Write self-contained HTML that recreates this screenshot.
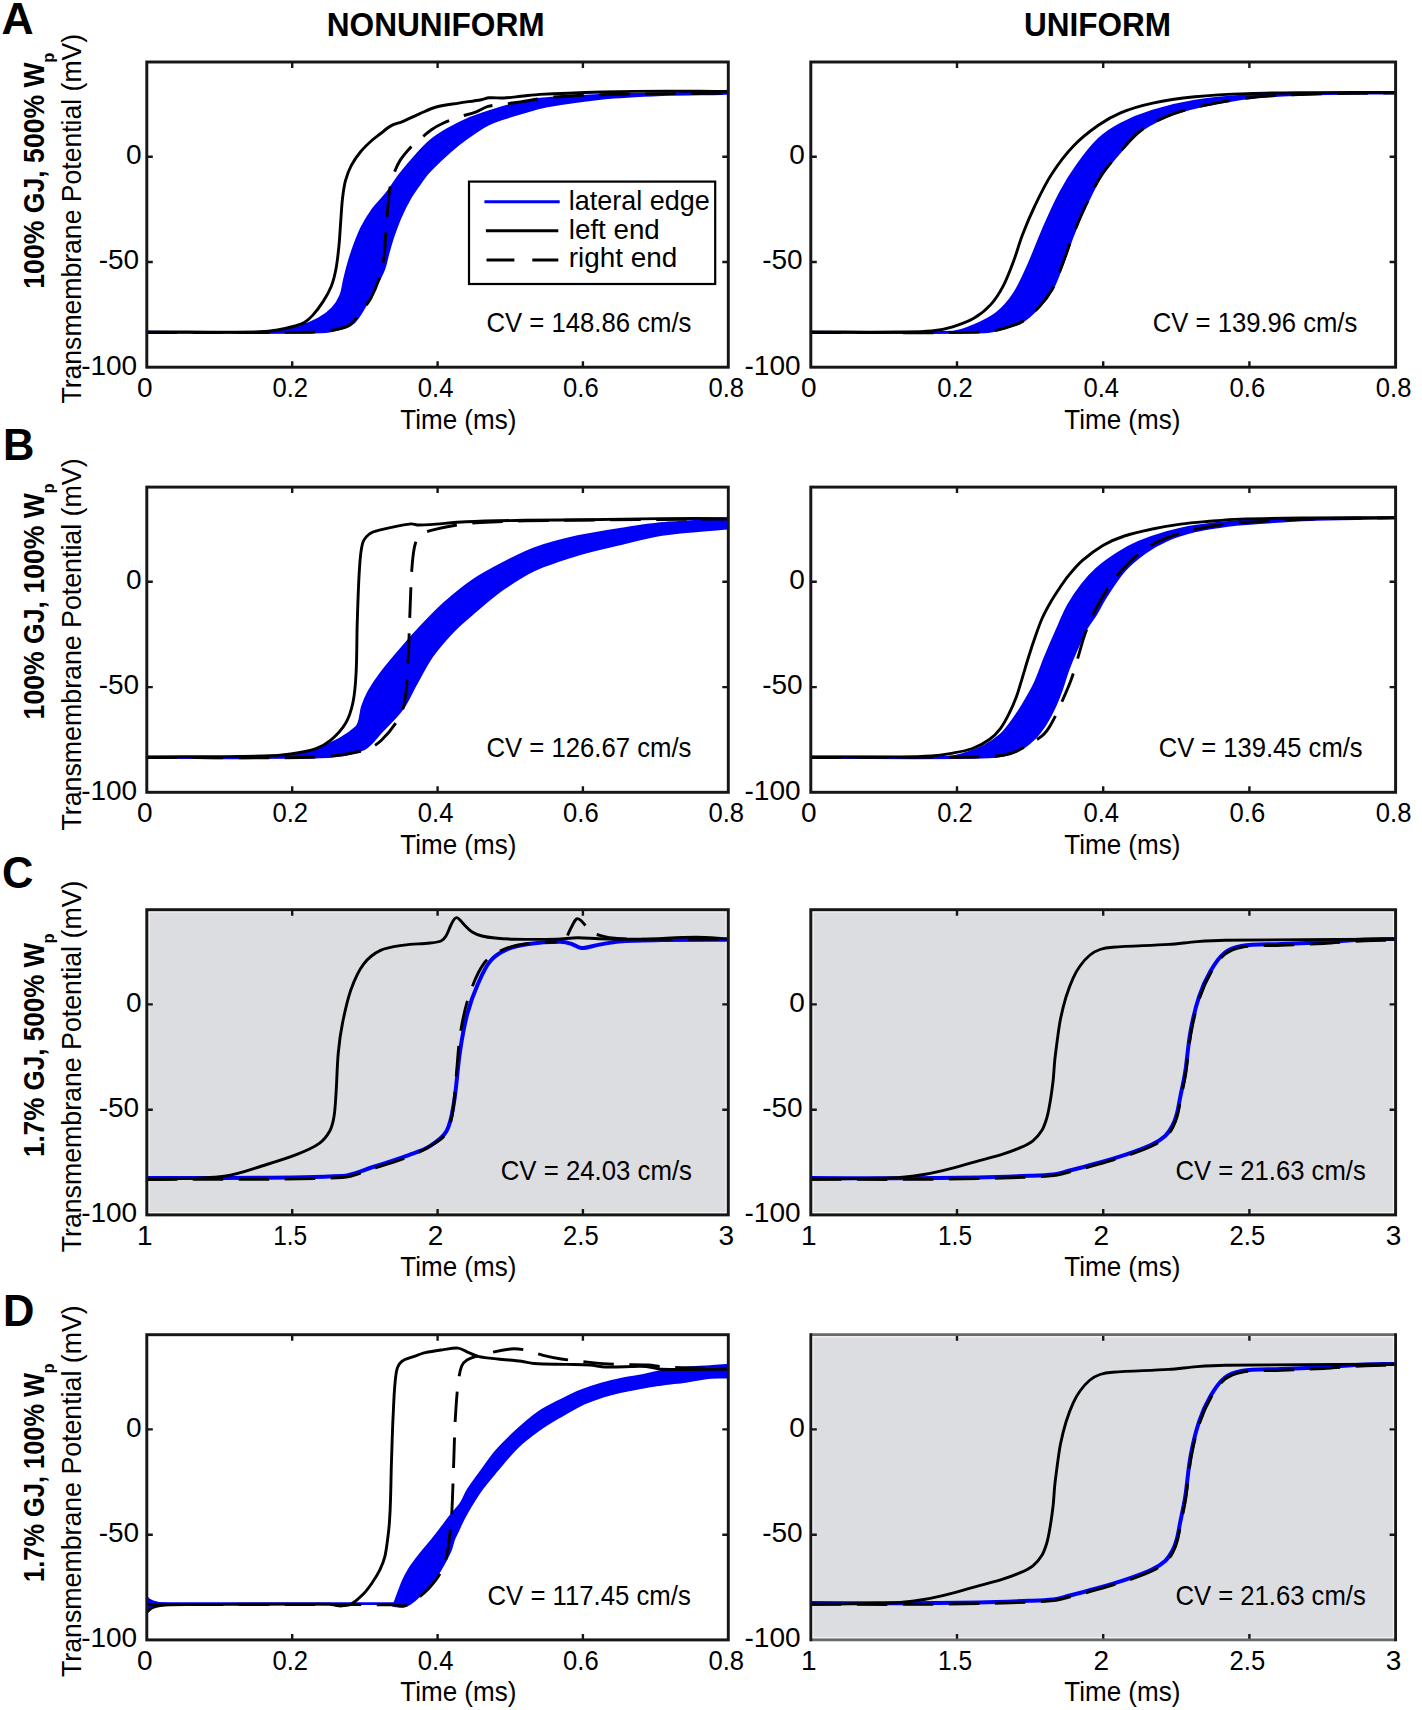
<!DOCTYPE html><html><head><meta charset="utf-8"><title>Figure</title><style>html,body{margin:0;padding:0;background:#fff;}svg{display:block;}text{font-family:"Liberation Sans",sans-serif;fill:#000;}</style></head><body>
<svg width="1422" height="1710" viewBox="0 0 1422 1710">
<rect x="0" y="0" width="1422" height="1710" fill="#fff"/>
<clipPath id="clipAl"><rect x="146.8" y="62.0" width="581.5" height="305.2"/></clipPath>
<g clip-path="url(#clipAl)" fill="none" stroke-linejoin="round" stroke-linecap="butt">
<path d="M146.7,332.0 C189.1,331.9 231.7,333.4 274.0,331.8 C283.2,331.4 292.2,328.6 301.0,326.0 C307.0,324.3 313.1,321.9 318.5,318.9 C323.6,316.1 328.5,312.6 332.5,308.4 C335.9,304.8 338.8,300.2 340.7,295.6 C342.7,290.9 343.0,285.5 344.2,280.4 C345.3,275.7 346.4,271.0 347.7,266.3 C349.5,260.0 351.4,253.7 353.6,247.6 C356.1,240.9 358.6,234.1 361.8,227.7 C364.8,221.6 368.3,215.7 372.3,210.2 C376.5,204.4 381.9,199.5 386.3,193.8 C391.3,187.4 395.4,180.4 400.4,174.0 C405.7,167.2 411.3,160.7 417.1,154.3 C421.4,149.6 425.7,144.8 430.6,140.8 C435.8,136.5 441.6,132.9 447.5,129.5 C454.8,125.4 462.3,121.6 470.0,118.3 C477.3,115.2 484.9,112.8 492.5,110.4 C499.9,108.1 507.4,106.0 515.0,104.2 C523.3,102.2 531.6,100.3 540.0,99.1 C546.9,98.1 553.9,97.9 560.8,97.5 C577.0,96.5 593.1,95.2 609.3,94.7 C646.9,93.6 684.6,93.3 722.2,92.6 C724.5,92.6 726.7,92.5 729.0,92.4 L729.0,93.5 C726.7,93.5 724.5,93.6 722.2,93.6 C702.1,94.0 682.0,93.9 662.0,94.7 C642.3,95.5 622.6,96.3 603.0,98.3 C583.9,100.2 564.9,103.1 546.0,106.3 C539.3,107.5 532.8,109.6 526.3,111.5 C518.8,113.6 511.2,115.8 503.8,118.3 C498.8,120.0 493.8,121.6 489.1,123.9 C484.4,126.1 479.9,128.9 475.6,131.8 C469.8,135.6 464.2,139.8 458.8,144.1 C453.0,148.8 447.4,153.7 441.9,158.8 C436.9,163.5 431.9,168.3 427.3,173.4 C424.6,176.4 422.4,179.9 420.0,183.3 C416.5,188.3 412.8,193.2 409.7,198.5 C406.2,204.5 403.2,210.8 400.4,217.2 C397.7,223.3 395.5,229.6 393.3,235.9 C391.6,240.9 390.1,246.0 388.7,251.1 C387.0,256.9 386.1,263.0 384.0,268.7 C381.4,275.5 377.9,282.0 374.6,288.5 C370.9,295.6 367.1,302.8 362.9,309.6 C360.1,314.1 357.4,319.1 353.6,322.5 C350.4,325.3 346.0,327.1 341.9,328.3 C335.1,330.3 327.9,331.8 320.8,332.0 C262.9,333.2 204.7,332.3 146.7,332.5 Z" fill="#0000f8" stroke="#0000f8" stroke-width="2.6"/>
<path d="M146.7,332.0 C184.5,331.9 222.3,332.4 260.0,331.8 C265.9,331.7 271.7,331.0 277.5,330.0 C283.4,329.0 289.3,327.6 295.1,326.0 C298.3,325.1 301.6,324.2 304.4,322.5 C307.4,320.7 310.2,318.1 312.6,315.4 C316.5,311.1 320.1,306.3 323.2,301.4 C326.3,296.6 329.2,291.5 331.3,286.2 C333.5,280.6 334.9,274.6 336.0,268.7 C337.5,261.0 338.2,253.1 339.0,245.3 C339.8,237.5 340.1,229.7 340.7,221.9 C341.3,214.1 341.6,206.3 342.5,198.5 C343.2,192.6 343.9,186.6 345.4,180.9 C346.8,175.7 348.7,170.5 351.2,165.7 C353.8,160.7 357.0,156.0 360.6,151.7 C364.1,147.5 368.2,143.7 372.3,140.0 C374.7,137.8 377.4,136.0 380.0,134.0 C383.7,131.2 387.2,127.8 391.3,125.6 C394.7,123.7 398.8,123.1 402.5,121.6 C408.2,119.2 413.7,116.3 419.4,113.8 C425.0,111.4 430.5,108.6 436.3,107.0 C443.6,105.0 451.3,104.3 458.8,103.1 C466.3,101.9 473.8,101.0 481.3,99.7 C483.9,99.2 486.5,98.0 489.1,97.8 C494.0,97.4 498.9,98.2 503.8,98.0 C509.4,97.7 515.0,96.9 520.6,96.3 C527.1,95.7 533.5,94.7 540.0,94.4 C561.0,93.3 582.0,92.6 603.0,92.0 C623.4,91.5 643.8,91.2 664.2,91.1 C683.5,91.0 702.9,91.4 722.2,91.5 C724.5,91.5 726.7,91.4 729.0,91.3" stroke="#000" stroke-width="2.9"/>
<path d="M146.7,332.5 C194.2,332.5 241.7,332.6 289.2,332.4 C299.0,332.4 308.8,332.4 318.5,331.8 C324.4,331.4 330.3,330.8 336.0,329.5 C340.8,328.4 346.2,327.6 350.1,324.8 C354.4,321.7 357.2,316.3 360.6,311.9 C364.2,307.3 368.4,303.0 371.1,297.9 C375.0,290.5 378.0,282.5 380.5,274.5 C382.3,268.9 383.3,262.9 384.0,257.0 C385.0,249.3 385.1,241.4 385.7,233.6 C386.5,223.8 387.2,214.1 388.1,204.3 C388.6,199.2 388.9,194.1 389.8,189.1 C390.6,184.4 391.7,179.6 393.3,175.1 C395.2,169.9 397.4,164.6 400.4,159.9 C403.6,154.8 407.9,150.2 412.0,145.8 C414.1,143.6 416.7,141.9 419.1,140.0 C423.3,136.5 427.3,132.6 431.8,129.5 C435.3,127.1 439.1,125.1 443.0,123.3 C448.1,120.9 453.5,118.9 458.8,117.1 C464.3,115.2 470.1,114.1 475.6,112.1 C479.9,110.5 483.7,107.6 488.0,106.4 C493.1,105.0 498.5,104.9 503.8,104.2 C509.4,103.4 515.0,102.8 520.6,101.9 C527.1,100.9 533.5,99.7 540.0,98.6 C542.7,98.2 545.4,97.6 548.1,97.4 C565.0,96.3 581.9,95.1 598.8,94.7 C639.9,93.7 681.1,93.7 722.2,93.2 C724.5,93.2 726.7,93.1 729.0,93.1" stroke="#000" stroke-width="2.9" stroke-dasharray="30.5 15.5"/>
</g>
<path d="M292.2,367.2V361.2M292.2,62.0V68.0M437.6,367.2V361.2M437.6,62.0V68.0M582.9,367.2V361.2M582.9,62.0V68.0M146.8,156.7H152.8M728.3,156.7H722.3M146.8,262.0H152.8M728.3,262.0H722.3" stroke="#161616" stroke-width="2.4" fill="none"/>
<rect x="146.8" y="62.0" width="581.5" height="305.2" fill="none" stroke="#161616" stroke-width="2.95"/>
<text x="144.8" y="397.0" font-size="28.0" text-anchor="middle" font-weight="normal">0</text>
<text x="290.2" y="397.0" font-size="28.0" text-anchor="middle" font-weight="normal" textLength="35.6" lengthAdjust="spacingAndGlyphs">0.2</text>
<text x="435.6" y="397.0" font-size="28.0" text-anchor="middle" font-weight="normal" textLength="35.6" lengthAdjust="spacingAndGlyphs">0.4</text>
<text x="580.9" y="397.0" font-size="28.0" text-anchor="middle" font-weight="normal" textLength="35.6" lengthAdjust="spacingAndGlyphs">0.6</text>
<text x="726.3" y="397.0" font-size="28.0" text-anchor="middle" font-weight="normal" textLength="35.6" lengthAdjust="spacingAndGlyphs">0.8</text>
<text x="141.5" y="164.0" font-size="28.0" text-anchor="end" font-weight="normal">0</text>
<text x="139.2" y="269.3" font-size="28.0" text-anchor="end" font-weight="normal">-50</text>
<text x="137.2" y="374.5" font-size="28.0" text-anchor="end" font-weight="normal">-100</text>
<text x="458.3" y="428.5" font-size="28.0" text-anchor="middle" font-weight="normal" textLength="116.0" lengthAdjust="spacingAndGlyphs">Time (ms)</text>
<text x="486.4" y="332.0" font-size="28.0" text-anchor="start" font-weight="normal" textLength="205.1" lengthAdjust="spacingAndGlyphs">CV = 148.86 cm/s</text>
<clipPath id="clipAr"><rect x="810.8" y="62.0" width="584.8" height="305.2"/></clipPath>
<g clip-path="url(#clipAr)" fill="none" stroke-linejoin="round" stroke-linecap="butt">
<path d="M810.9,332.0 C858.2,332.0 905.7,333.8 952.7,332.0 C960.0,331.7 967.1,328.6 973.8,325.7 C981.9,322.2 990.2,318.4 997.0,313.0 C1003.6,307.8 1009.3,301.0 1013.9,294.0 C1019.9,284.9 1024.2,274.5 1028.7,264.5 C1034.0,252.7 1038.3,240.5 1043.5,228.7 C1048.8,216.6 1054.1,204.4 1060.3,192.8 C1065.3,183.3 1070.9,174.1 1077.2,165.4 C1083.8,156.2 1090.8,146.8 1099.0,139.0 C1105.4,132.9 1113.2,127.9 1121.1,123.8 C1131.1,118.6 1141.9,114.3 1152.7,111.0 C1166.5,106.7 1180.7,103.3 1194.9,101.0 C1212.3,98.2 1230.1,96.9 1247.7,95.8 C1268.8,94.5 1289.9,94.0 1311.0,93.6 C1339.1,93.1 1367.3,93.2 1395.4,93.0 L1395.4,93.0 C1367.3,93.4 1339.1,93.3 1311.0,94.1 C1293.4,94.6 1275.7,95.1 1258.2,96.8 C1244.1,98.1 1229.9,100.3 1216.0,103.1 C1201.8,105.9 1187.4,108.8 1173.8,113.7 C1162.8,117.6 1151.7,122.8 1142.2,129.5 C1134.2,135.1 1127.7,143.2 1121.1,150.6 C1114.0,158.7 1106.8,167.0 1101.0,176.0 C1095.0,185.3 1090.4,195.5 1085.7,205.5 C1081.1,215.2 1076.9,225.0 1073.0,235.0 C1069.2,244.7 1066.2,254.8 1062.4,264.5 C1059.1,273.0 1056.3,281.9 1051.9,289.8 C1048.5,295.9 1044.0,301.6 1039.2,306.7 C1034.1,312.1 1028.6,317.6 1022.4,321.5 C1017.4,324.6 1011.3,326.2 1005.5,327.8 C998.6,329.7 991.6,331.8 984.4,332.0 C926.7,333.4 868.7,332.3 810.9,332.5 Z" fill="#0000f8" stroke="#0000f8" stroke-width="2.6"/>
<path d="M810.9,332.0 C840.6,332.0 870.3,332.2 900.0,332.0 C910.5,331.9 921.1,332.0 931.6,331.0 C938.7,330.3 945.9,328.9 952.7,326.8 C959.9,324.6 967.3,322.1 973.8,318.3 C980.0,314.7 985.9,309.9 990.7,304.6 C995.8,299.0 999.9,292.3 1003.4,285.6 C1007.6,277.5 1010.7,268.8 1013.9,260.3 C1017.0,252.0 1019.2,243.3 1022.4,235.0 C1026.2,225.0 1030.4,215.1 1035.0,205.5 C1040.2,194.7 1045.4,183.8 1051.9,173.8 C1058.1,164.1 1065.1,154.7 1073.0,146.4 C1080.5,138.5 1089.4,131.6 1098.3,125.3 C1105.4,120.3 1113.1,115.9 1121.1,112.6 C1131.2,108.5 1142.0,105.4 1152.7,103.1 C1166.6,100.1 1180.8,98.2 1194.9,96.8 C1212.4,95.0 1230.1,94.2 1247.7,93.6 C1268.8,92.8 1289.9,92.8 1311.0,92.6 C1339.1,92.4 1367.3,92.5 1395.4,92.4" stroke="#000" stroke-width="2.9"/>
<path d="M810.9,332.5 C868.7,332.3 926.7,333.4 984.4,332.0 C991.6,331.8 998.6,329.7 1005.5,327.8 C1011.3,326.2 1017.4,324.6 1022.4,321.5 C1028.6,317.6 1034.1,312.1 1039.2,306.7 C1044.0,301.6 1048.5,295.9 1051.9,289.8 C1056.3,281.9 1059.1,273.0 1062.4,264.5 C1066.2,254.8 1069.2,244.7 1073.0,235.0 C1076.9,225.0 1081.1,215.2 1085.7,205.5 C1090.4,195.5 1095.0,185.3 1101.0,176.0 C1106.8,167.0 1114.0,158.7 1121.1,150.6 C1127.7,143.2 1134.2,135.1 1142.2,129.5 C1151.7,122.8 1162.8,117.6 1173.8,113.7 C1187.4,108.8 1201.8,105.9 1216.0,103.1 C1229.9,100.3 1244.1,98.1 1258.2,96.8 C1275.7,95.1 1293.4,94.6 1311.0,94.1 C1339.1,93.3 1367.3,93.4 1395.4,93.0" stroke="#000" stroke-width="2.9" stroke-dasharray="30.5 15.5"/>
</g>
<path d="M957.0,367.2V361.2M957.0,62.0V68.0M1103.2,367.2V361.2M1103.2,62.0V68.0M1249.4,367.2V361.2M1249.4,62.0V68.0M810.8,156.7H816.8M1395.6,156.7H1389.6M810.8,262.0H816.8M1395.6,262.0H1389.6" stroke="#161616" stroke-width="2.4" fill="none"/>
<rect x="810.8" y="62.0" width="584.8" height="305.2" fill="none" stroke="#161616" stroke-width="2.95"/>
<text x="808.8" y="397.0" font-size="28.0" text-anchor="middle" font-weight="normal">0</text>
<text x="955.0" y="397.0" font-size="28.0" text-anchor="middle" font-weight="normal" textLength="35.6" lengthAdjust="spacingAndGlyphs">0.2</text>
<text x="1101.2" y="397.0" font-size="28.0" text-anchor="middle" font-weight="normal" textLength="35.6" lengthAdjust="spacingAndGlyphs">0.4</text>
<text x="1247.4" y="397.0" font-size="28.0" text-anchor="middle" font-weight="normal" textLength="35.6" lengthAdjust="spacingAndGlyphs">0.6</text>
<text x="1393.6" y="397.0" font-size="28.0" text-anchor="middle" font-weight="normal" textLength="35.6" lengthAdjust="spacingAndGlyphs">0.8</text>
<text x="804.9" y="164.0" font-size="28.0" text-anchor="end" font-weight="normal">0</text>
<text x="802.6" y="269.3" font-size="28.0" text-anchor="end" font-weight="normal">-50</text>
<text x="800.6" y="374.5" font-size="28.0" text-anchor="end" font-weight="normal">-100</text>
<text x="1122.3" y="428.5" font-size="28.0" text-anchor="middle" font-weight="normal" textLength="116.0" lengthAdjust="spacingAndGlyphs">Time (ms)</text>
<text x="1152.8" y="332.0" font-size="28.0" text-anchor="start" font-weight="normal" textLength="204.5" lengthAdjust="spacingAndGlyphs">CV = 139.96 cm/s</text>
<clipPath id="clipBl"><rect x="146.8" y="487.1" width="581.5" height="305.2"/></clipPath>
<g clip-path="url(#clipBl)" fill="none" stroke-linejoin="round" stroke-linecap="butt">
<path d="M146.7,757.0 C189.1,757.0 231.6,759.1 273.8,757.0 C288.8,756.3 304.1,753.6 318.1,748.6 C331.6,743.8 346.3,736.8 356.1,727.5 C361.1,722.8 360.0,713.3 362.4,706.4 C364.2,701.3 366.2,696.3 368.8,691.6 C372.5,685.0 376.8,678.7 381.4,672.7 C388.1,664.0 395.3,655.6 402.5,647.3 C409.4,639.4 416.4,631.6 423.6,624.0 C430.4,616.8 437.3,609.6 444.7,603.0 C453.5,595.2 462.5,587.6 472.2,581.0 C482.2,574.2 493.0,568.6 503.8,563.0 C514.1,557.6 524.6,552.1 535.5,548.2 C549.2,543.3 563.5,539.8 577.7,536.6 C591.6,533.5 605.8,531.3 619.9,529.2 C636.0,526.8 652.2,524.3 668.4,522.9 C688.2,521.2 708.1,520.8 728.0,519.7 L728.0,528.1 C706.0,530.2 683.8,531.3 662.0,534.5 C647.8,536.6 633.9,540.7 619.9,544.0 C605.8,547.3 591.6,550.3 577.7,554.5 C563.4,558.8 549.0,563.1 535.5,569.3 C524.4,574.4 513.9,581.3 503.8,588.3 C493.5,595.5 483.9,603.9 474.3,612.0 C467.1,618.1 459.7,624.2 453.2,631.0 C445.7,638.9 438.3,647.1 432.1,656.0 C425.7,665.2 420.7,675.5 415.2,685.3 C410.9,693.0 407.7,701.4 402.5,708.5 C396.4,716.9 388.6,724.1 381.4,731.7 C375.9,737.5 371.4,745.0 364.6,748.6 C355.9,753.1 345.0,754.8 335.0,756.0 C320.4,757.8 305.5,757.4 290.7,757.5 C242.7,757.9 194.7,757.5 146.7,757.5 Z" fill="#0000f8" stroke="#0000f8" stroke-width="2.6"/>
<path d="M146.7,757.0 C185.6,756.7 224.5,756.8 263.3,756.0 C272.5,755.8 281.6,755.2 290.7,753.9 C299.2,752.7 307.9,751.4 316.0,748.6 C321.3,746.8 326.5,743.8 330.8,740.2 C336.4,735.4 341.9,729.6 345.6,723.3 C349.3,717.0 351.5,709.4 353.0,702.2 C355.0,692.6 355.6,682.6 356.1,672.7 C357.0,656.5 356.7,640.3 357.2,624.1 C357.8,606.5 358.2,588.9 359.3,571.4 C359.9,562.2 360.2,552.7 362.4,544.0 C363.3,540.4 366.0,536.8 368.8,534.5 C371.6,532.2 375.6,531.1 379.3,530.2 C389.7,527.6 400.4,525.3 411.0,523.9 C413.1,523.6 415.2,524.9 417.3,525.0 C421.5,525.2 425.8,524.9 430.0,524.6 C441.9,523.8 453.8,522.3 465.8,521.8 C485.5,520.9 505.2,520.6 524.9,520.3 C546.0,519.9 567.1,520.0 588.2,519.7 C612.1,519.4 636.1,518.8 660.0,518.6 C682.7,518.4 705.3,518.6 728.0,518.6" stroke="#000" stroke-width="2.9"/>
<path d="M146.7,757.5 C203.1,757.3 259.7,758.9 316.0,757.0 C332.3,756.5 349.0,754.3 364.6,750.3 C370.8,748.7 376.7,744.6 381.4,740.2 C387.9,734.2 393.7,726.7 398.3,719.1 C401.4,714.0 403.5,708.1 404.6,702.2 C406.7,690.5 407.1,678.3 407.8,666.3 C408.8,648.8 409.2,631.2 409.9,613.6 C410.6,598.1 410.8,582.6 412.0,567.2 C412.6,559.4 413.1,551.3 415.2,544.0 C416.2,540.4 418.5,536.6 421.5,534.5 C425.6,531.6 431.2,530.5 436.3,529.2 C445.3,526.9 454.5,525.3 463.7,523.9 C469.3,523.1 475.0,522.8 480.6,522.5 C495.4,521.8 510.1,521.0 524.9,520.8 C592.6,519.8 660.3,519.6 728.0,519.0" stroke="#000" stroke-width="2.9" stroke-dasharray="30.5 15.5"/>
</g>
<path d="M292.2,792.3V786.3M292.2,487.1V493.1M437.6,792.3V786.3M437.6,487.1V493.1M582.9,792.3V786.3M582.9,487.1V493.1M146.8,581.8H152.8M728.3,581.8H722.3M146.8,687.1H152.8M728.3,687.1H722.3" stroke="#161616" stroke-width="2.4" fill="none"/>
<rect x="146.8" y="487.1" width="581.5" height="305.2" fill="none" stroke="#161616" stroke-width="2.95"/>
<text x="144.8" y="822.1" font-size="28.0" text-anchor="middle" font-weight="normal">0</text>
<text x="290.2" y="822.1" font-size="28.0" text-anchor="middle" font-weight="normal" textLength="35.6" lengthAdjust="spacingAndGlyphs">0.2</text>
<text x="435.6" y="822.1" font-size="28.0" text-anchor="middle" font-weight="normal" textLength="35.6" lengthAdjust="spacingAndGlyphs">0.4</text>
<text x="580.9" y="822.1" font-size="28.0" text-anchor="middle" font-weight="normal" textLength="35.6" lengthAdjust="spacingAndGlyphs">0.6</text>
<text x="726.3" y="822.1" font-size="28.0" text-anchor="middle" font-weight="normal" textLength="35.6" lengthAdjust="spacingAndGlyphs">0.8</text>
<text x="141.5" y="589.1" font-size="28.0" text-anchor="end" font-weight="normal">0</text>
<text x="139.2" y="694.4" font-size="28.0" text-anchor="end" font-weight="normal">-50</text>
<text x="137.2" y="799.6" font-size="28.0" text-anchor="end" font-weight="normal">-100</text>
<text x="458.3" y="853.6" font-size="28.0" text-anchor="middle" font-weight="normal" textLength="116.0" lengthAdjust="spacingAndGlyphs">Time (ms)</text>
<text x="486.4" y="757.1" font-size="28.0" text-anchor="start" font-weight="normal" textLength="205.1" lengthAdjust="spacingAndGlyphs">CV = 126.67 cm/s</text>
<clipPath id="clipBr"><rect x="810.8" y="487.1" width="584.8" height="305.2"/></clipPath>
<g clip-path="url(#clipBr)" fill="none" stroke-linejoin="round" stroke-linecap="butt">
<path d="M810.8,757.0 C857.2,757.0 903.7,757.7 950.0,757.0 C953.8,756.9 957.6,755.9 961.3,754.7 C968.9,752.3 976.7,749.9 983.8,746.3 C989.8,743.3 995.6,739.4 1000.6,735.0 C1005.0,731.2 1008.4,726.2 1011.9,721.5 C1015.9,716.1 1019.6,710.4 1023.1,704.6 C1027.1,698.0 1031.1,691.4 1034.4,684.4 C1038.6,675.3 1041.7,665.6 1045.6,656.3 C1049.2,647.5 1053.0,638.7 1056.9,630.0 C1060.6,621.6 1064.0,613.0 1068.5,605.0 C1072.5,597.8 1077.2,591.0 1082.2,584.5 C1086.4,579.0 1091.1,573.7 1096.3,569.1 C1102.8,563.4 1110.1,558.3 1117.4,553.6 C1124.1,549.3 1131.2,545.4 1138.5,542.3 C1147.6,538.4 1157.1,535.2 1166.6,532.5 C1175.8,529.9 1185.2,527.6 1194.7,526.2 C1209.7,523.9 1224.9,522.3 1240.0,521.3 C1263.6,519.8 1287.3,519.1 1311.0,518.6 C1339.1,518.0 1367.3,518.1 1395.4,517.8 L1395.4,518.0 C1367.3,518.6 1339.1,518.6 1311.0,519.7 C1287.3,520.6 1263.6,522.4 1240.0,524.1 C1234.2,524.5 1228.5,525.3 1222.8,526.2 C1213.4,527.7 1203.9,528.8 1194.7,531.1 C1185.2,533.5 1175.6,536.3 1166.6,540.2 C1159.2,543.4 1152.0,547.5 1145.5,552.2 C1138.0,557.6 1130.5,563.5 1124.4,570.5 C1116.7,579.3 1110.5,589.6 1104.1,599.5 C1101.2,604.0 1099.1,609.0 1096.3,613.5 C1093.1,618.8 1089.0,623.6 1086.0,629.0 C1082.2,635.9 1079.2,643.3 1076.0,650.6 C1073.2,656.9 1070.5,663.3 1068.1,669.8 C1065.6,676.4 1063.8,683.3 1061.4,690.0 C1059.3,695.7 1057.2,701.4 1054.6,706.9 C1051.9,712.7 1049.0,718.4 1045.6,723.8 C1042.3,728.9 1038.8,734.2 1034.4,738.4 C1029.4,743.2 1023.8,748.2 1017.5,750.8 C1008.8,754.4 999.0,756.7 989.4,757.0 C930.1,758.9 870.3,757.3 810.8,757.5 Z" fill="#0000f8" stroke="#0000f8" stroke-width="2.6"/>
<path d="M810.8,757.0 C840.5,757.0 870.3,757.2 900.0,757.0 C910.5,756.9 921.1,756.7 931.6,756.0 C937.8,755.6 943.9,754.7 950.0,753.6 C957.6,752.2 965.3,751.1 972.5,748.5 C978.5,746.4 984.3,743.2 989.4,739.5 C993.6,736.5 997.5,732.5 1000.6,728.3 C1004.2,723.5 1006.9,717.9 1009.6,712.5 C1012.2,707.4 1014.4,702.1 1016.4,696.8 C1018.6,690.9 1020.2,684.8 1022.0,678.8 C1024.3,671.3 1026.4,663.8 1028.8,656.3 C1030.9,649.5 1033.1,642.7 1035.5,636.0 C1037.6,630.0 1039.7,623.8 1042.3,618.0 C1044.9,612.2 1048.1,606.5 1051.3,601.0 C1054.0,596.4 1057.0,591.9 1060.0,587.5 C1062.6,583.6 1065.1,579.7 1068.1,576.1 C1072.5,570.7 1077.0,565.2 1082.2,560.6 C1088.7,554.9 1095.8,549.6 1103.3,545.2 C1109.9,541.4 1117.1,538.4 1124.4,536.0 C1133.5,533.0 1143.1,531.0 1152.5,529.0 C1161.8,527.0 1171.2,525.4 1180.6,524.1 C1190.0,522.8 1199.4,522.1 1208.8,521.3 C1219.2,520.4 1229.6,519.4 1240.0,519.1 C1263.6,518.3 1287.3,518.2 1311.0,518.0 C1339.1,517.7 1367.3,517.7 1395.4,517.6" stroke="#000" stroke-width="2.9"/>
<path d="M810.8,757.5 C864.7,757.3 918.6,757.6 972.5,757.0 C982.6,756.9 992.9,756.7 1002.9,755.3 C1007.9,754.6 1013.0,753.1 1017.5,750.8 C1026.1,746.5 1034.8,741.6 1042.3,735.6 C1046.1,732.6 1048.9,728.1 1051.3,723.8 C1056.0,715.5 1059.7,706.6 1063.6,697.9 C1066.4,691.6 1069.2,685.3 1071.5,678.8 C1074.1,671.4 1076.0,663.8 1078.3,656.3 C1080.5,648.9 1082.4,641.3 1085.0,634.0 C1087.3,627.5 1090.0,621.2 1092.9,615.0 C1095.2,610.1 1097.7,605.2 1100.5,600.5 C1104.9,593.1 1109.2,585.6 1114.5,578.9 C1120.9,570.9 1127.8,563.0 1135.6,556.4 C1142.8,550.3 1151.0,545.0 1159.5,540.9 C1168.4,536.6 1178.1,533.7 1187.7,531.1 C1196.9,528.6 1206.4,527.0 1215.8,525.5 C1223.8,524.2 1231.9,523.3 1240.0,522.7 C1263.6,521.1 1287.3,519.7 1311.0,519.0 C1339.1,518.1 1367.3,518.2 1395.4,517.8" stroke="#000" stroke-width="2.9" stroke-dasharray="30.5 15.5"/>
</g>
<path d="M957.0,792.3V786.3M957.0,487.1V493.1M1103.2,792.3V786.3M1103.2,487.1V493.1M1249.4,792.3V786.3M1249.4,487.1V493.1M810.8,581.8H816.8M1395.6,581.8H1389.6M810.8,687.1H816.8M1395.6,687.1H1389.6" stroke="#161616" stroke-width="2.4" fill="none"/>
<rect x="810.8" y="487.1" width="584.8" height="305.2" fill="none" stroke="#161616" stroke-width="2.95"/>
<text x="808.8" y="822.1" font-size="28.0" text-anchor="middle" font-weight="normal">0</text>
<text x="955.0" y="822.1" font-size="28.0" text-anchor="middle" font-weight="normal" textLength="35.6" lengthAdjust="spacingAndGlyphs">0.2</text>
<text x="1101.2" y="822.1" font-size="28.0" text-anchor="middle" font-weight="normal" textLength="35.6" lengthAdjust="spacingAndGlyphs">0.4</text>
<text x="1247.4" y="822.1" font-size="28.0" text-anchor="middle" font-weight="normal" textLength="35.6" lengthAdjust="spacingAndGlyphs">0.6</text>
<text x="1393.6" y="822.1" font-size="28.0" text-anchor="middle" font-weight="normal" textLength="35.6" lengthAdjust="spacingAndGlyphs">0.8</text>
<text x="804.9" y="589.1" font-size="28.0" text-anchor="end" font-weight="normal">0</text>
<text x="802.6" y="694.4" font-size="28.0" text-anchor="end" font-weight="normal">-50</text>
<text x="800.6" y="799.6" font-size="28.0" text-anchor="end" font-weight="normal">-100</text>
<text x="1122.3" y="853.6" font-size="28.0" text-anchor="middle" font-weight="normal" textLength="116.0" lengthAdjust="spacingAndGlyphs">Time (ms)</text>
<text x="1158.7" y="757.1" font-size="28.0" text-anchor="start" font-weight="normal" textLength="203.9" lengthAdjust="spacingAndGlyphs">CV = 139.45 cm/s</text>
<clipPath id="clipCl"><rect x="146.8" y="909.7" width="581.5" height="305.2"/></clipPath>
<rect x="146.8" y="909.7" width="581.5" height="305.2" fill="#dcdde0"/>
<rect x="149.0" y="911.9" width="577.1" height="300.8" fill="none" stroke="#f4f4f5" stroke-width="1.2"/>
<g clip-path="url(#clipCl)" fill="none" stroke-linejoin="round" stroke-linecap="butt">
<path d="M146.7,1179.3 C212.0,1178.6 277.6,1180.3 342.5,1177.2 C352.7,1176.7 362.2,1171.8 372.0,1168.7 C384.7,1164.7 397.5,1160.6 410.0,1156.0 C416.8,1153.5 424.0,1151.4 430.0,1147.6 C436.3,1143.7 443.3,1139.0 446.9,1132.8 C451.4,1124.9 452.7,1114.7 454.3,1105.4 C457.3,1088.0 458.0,1070.2 460.6,1052.7 C462.5,1039.9 464.7,1027.1 468.0,1014.7 C470.7,1004.6 474.3,994.7 478.5,985.2 C482.0,977.2 485.6,968.5 491.2,962.0 C495.5,956.9 502.0,953.1 508.1,950.4 C514.6,947.5 522.0,946.1 529.2,945.1 C539.6,943.6 550.3,943.0 560.8,943.0 C564.6,943.0 568.4,943.9 572.0,945.0 C575.4,946.0 578.5,949.2 581.9,949.3 C587.4,949.5 593.2,947.1 598.8,946.1 C605.8,944.9 612.8,943.1 619.9,942.6 C633.9,941.5 648.0,941.5 662.1,941.3 C683.9,941.0 705.7,941.0 727.5,940.9" stroke="#0000f8" stroke-width="4" transform="translate(-0.6,-1.2)"/>
<path d="M146.7,1179.3 C172.6,1178.2 198.8,1179.3 224.4,1176.1 C238.8,1174.3 252.6,1168.7 266.6,1164.5 C277.2,1161.3 287.9,1158.0 298.2,1153.9 C305.5,1151.0 313.1,1147.9 319.3,1143.4 C323.7,1140.2 327.3,1135.4 329.9,1130.7 C332.3,1126.3 333.3,1121.0 334.1,1116.0 C335.4,1107.7 335.6,1099.1 336.2,1090.7 C337.0,1078.0 337.1,1065.3 338.3,1052.7 C339.2,1042.8 340.5,1032.9 342.5,1023.1 C344.8,1011.8 347.1,1000.2 351.0,989.4 C354.2,980.6 358.0,971.4 363.6,964.1 C367.9,958.4 374.1,953.4 380.5,950.4 C387.5,947.1 395.9,946.3 403.7,945.1 C412.4,943.8 421.3,944.0 430.0,943.0 C433.7,942.6 437.7,942.4 441.0,941.0 C443.1,940.1 444.8,938.0 446.0,936.0 C447.9,933.0 448.9,929.3 450.5,926.0 C451.6,923.8 452.6,921.4 454.0,919.5 C454.6,918.6 455.7,917.6 456.6,917.6 C457.6,917.6 458.7,918.7 459.5,919.5 C461.1,921.0 462.4,922.9 464.0,924.5 C466.6,927.1 469.1,930.0 472.2,932.0 C475.1,933.9 478.6,935.1 482.0,936.0 C486.2,937.1 490.6,937.6 495.0,938.0 C501.4,938.6 507.9,939.1 514.4,939.2 C528.5,939.5 542.5,939.5 556.6,939.2 C563.6,939.0 570.7,937.8 577.7,937.7 C584.7,937.6 591.8,938.6 598.8,938.8 C612.9,939.1 626.9,939.4 641.0,939.2 C659.3,938.9 677.5,937.2 695.8,937.1 C706.4,937.1 716.9,938.2 727.5,938.8" stroke="#000" stroke-width="2.9"/>
<path d="M146.7,1179.5 C212.0,1178.8 277.6,1180.5 342.5,1177.5 C352.7,1177.0 362.2,1172.1 372.0,1169.0 C384.7,1165.0 397.6,1161.2 410.0,1156.3 C417.3,1153.4 424.4,1149.6 431.1,1145.5 C436.0,1142.5 441.6,1139.5 444.8,1135.0 C448.6,1129.7 450.7,1122.6 452.0,1116.0 C454.6,1102.2 455.0,1087.9 456.4,1073.8 C457.8,1059.7 458.3,1045.5 460.6,1031.6 C462.8,1018.6 465.6,1005.4 470.0,993.0 C473.8,982.2 478.2,970.8 485.0,962.0 C489.5,956.2 497.0,952.4 503.8,949.3 C510.3,946.4 517.7,945.0 524.9,944.0 C535.3,942.5 546.0,942.6 556.6,941.9" stroke="#000" stroke-width="2.9" stroke-dasharray="30.5 15.5"/>
<path d="M596.7,934.5 C600.9,935.6 605.0,937.2 609.3,937.7 C619.8,938.8 630.4,939.1 641.0,939.2 C669.8,939.6 698.7,939.2 727.5,939.2" stroke="#000" stroke-width="2.9" stroke-dasharray="30.5 15.5"/>
<path d="M567.5,935.5 C568.8,932.7 570.0,929.7 571.5,927.0 C573.0,924.2 574.4,920.6 576.5,919.0 C577.4,918.3 579.4,919.4 580.5,920.2 C582.4,921.6 583.8,923.7 585.5,925.5" stroke="#000" stroke-width="2.9"/>
</g>
<path d="M292.2,1214.9V1208.9M292.2,909.7V915.7M437.6,1214.9V1208.9M437.6,909.7V915.7M582.9,1214.9V1208.9M582.9,909.7V915.7M146.8,1004.4H152.8M728.3,1004.4H722.3M146.8,1109.7H152.8M728.3,1109.7H722.3" stroke="#161616" stroke-width="2.4" fill="none"/>
<rect x="146.8" y="909.7" width="581.5" height="305.2" fill="none" stroke="#161616" stroke-width="2.95"/>
<text x="144.8" y="1244.7" font-size="28.0" text-anchor="middle" font-weight="normal">1</text>
<text x="290.2" y="1244.7" font-size="28.0" text-anchor="middle" font-weight="normal" textLength="34.0" lengthAdjust="spacingAndGlyphs">1.5</text>
<text x="435.6" y="1244.7" font-size="28.0" text-anchor="middle" font-weight="normal">2</text>
<text x="580.9" y="1244.7" font-size="28.0" text-anchor="middle" font-weight="normal" textLength="35.6" lengthAdjust="spacingAndGlyphs">2.5</text>
<text x="726.3" y="1244.7" font-size="28.0" text-anchor="middle" font-weight="normal">3</text>
<text x="141.5" y="1011.7" font-size="28.0" text-anchor="end" font-weight="normal">0</text>
<text x="139.2" y="1117.0" font-size="28.0" text-anchor="end" font-weight="normal">-50</text>
<text x="137.2" y="1222.2" font-size="28.0" text-anchor="end" font-weight="normal">-100</text>
<text x="458.3" y="1276.2" font-size="28.0" text-anchor="middle" font-weight="normal" textLength="116.0" lengthAdjust="spacingAndGlyphs">Time (ms)</text>
<text x="500.7" y="1179.7" font-size="28.0" text-anchor="start" font-weight="normal" textLength="191.3" lengthAdjust="spacingAndGlyphs">CV = 24.03 cm/s</text>
<clipPath id="clipCr"><rect x="810.8" y="909.7" width="584.8" height="305.2"/></clipPath>
<rect x="810.8" y="909.7" width="584.8" height="305.2" fill="#dcdde0"/>
<rect x="813.0" y="911.9" width="580.4" height="300.8" fill="none" stroke="#f4f4f5" stroke-width="1.2"/>
<g clip-path="url(#clipCr)" fill="none" stroke-linejoin="round" stroke-linecap="butt">
<path d="M810.9,1179.3 C840.6,1179.3 870.3,1179.5 900.0,1179.4 C926.3,1179.3 952.5,1179.1 978.8,1178.6 C995.9,1178.3 1012.9,1177.7 1030.0,1177.0 C1037.9,1176.7 1045.8,1176.5 1053.6,1175.6 C1058.3,1175.0 1062.8,1173.7 1067.4,1172.5 C1077.3,1170.0 1087.1,1167.5 1096.9,1164.7 C1106.8,1161.9 1116.7,1159.1 1126.4,1155.8 C1135.0,1152.9 1143.8,1149.9 1152.0,1146.0 C1156.9,1143.7 1161.8,1140.7 1165.8,1137.1 C1168.8,1134.4 1171.1,1130.6 1173.0,1127.0 C1175.0,1123.3 1176.4,1119.1 1177.5,1115.0 C1178.9,1110.1 1179.5,1105.0 1180.5,1100.0 C1182.2,1091.3 1184.3,1082.6 1185.7,1073.8 C1187.9,1059.8 1188.7,1045.5 1191.3,1031.6 C1193.4,1020.2 1196.0,1008.8 1199.7,997.8 C1202.6,989.1 1206.4,980.4 1211.0,972.5 C1214.8,965.9 1219.3,958.9 1225.0,954.2 C1229.6,950.5 1236.0,948.2 1241.9,947.2 C1254.7,945.2 1268.2,945.8 1281.3,945.2 C1295.4,944.6 1309.4,944.2 1323.5,943.5 C1337.6,942.7 1351.6,941.3 1365.7,940.7 C1375.6,940.2 1385.5,940.4 1395.4,940.2" stroke="#0000f8" stroke-width="4" transform="translate(-0.6,-1.2)"/>
<path d="M810.9,1179.3 C830.0,1179.0 849.2,1178.8 868.3,1178.4 C878.9,1178.2 889.5,1178.3 900.0,1177.5 C908.5,1176.9 916.9,1175.8 925.3,1174.3 C933.8,1172.8 942.2,1170.7 950.6,1168.6 C959.1,1166.5 967.5,1163.9 975.9,1161.6 C984.4,1159.3 992.9,1157.3 1001.3,1154.7 C1007.7,1152.7 1014.1,1150.4 1020.3,1147.7 C1024.7,1145.8 1029.2,1143.7 1032.9,1140.8 C1036.4,1138.0 1039.5,1134.4 1041.8,1130.6 C1044.1,1126.8 1045.5,1122.3 1046.8,1118.0 C1048.3,1113.1 1049.1,1107.9 1050.0,1102.8 C1051.3,1095.2 1052.3,1087.6 1053.2,1080.0 C1053.9,1073.4 1054.1,1066.7 1054.8,1060.0 C1055.5,1053.3 1056.4,1046.7 1057.3,1040.0 C1058.3,1033.0 1059.1,1025.9 1060.5,1019.0 C1062.0,1011.6 1063.8,1004.2 1066.0,997.0 C1068.0,990.6 1070.3,984.2 1073.1,978.1 C1075.0,973.9 1077.3,969.7 1080.0,966.0 C1082.9,962.0 1086.2,958.1 1090.0,955.0 C1092.9,952.6 1096.5,950.7 1100.0,949.5 C1104.0,948.1 1108.3,947.5 1112.5,947.2 C1131.2,945.8 1150.1,945.6 1168.8,944.4 C1178.2,943.8 1187.5,942.3 1196.9,941.6 C1206.2,940.9 1215.6,940.3 1225.0,940.2 C1281.8,939.5 1338.6,939.6 1395.4,939.3" stroke="#000" stroke-width="2.9"/>
<path d="M810.9,1179.3 C840.6,1179.3 870.3,1179.5 900.0,1179.4 C926.3,1179.3 952.5,1179.1 978.8,1178.6 C995.9,1178.3 1012.9,1177.7 1030.0,1177.0 C1037.9,1176.7 1045.8,1176.5 1053.6,1175.6 C1058.3,1175.0 1062.8,1173.7 1067.4,1172.5 C1077.3,1170.0 1087.1,1167.5 1096.9,1164.7 C1106.8,1161.9 1116.7,1159.1 1126.4,1155.8 C1135.0,1152.9 1143.8,1149.9 1152.0,1146.0 C1156.9,1143.7 1161.8,1140.7 1165.8,1137.1 C1168.8,1134.4 1171.1,1130.6 1173.0,1127.0 C1175.0,1123.3 1176.4,1119.1 1177.5,1115.0 C1178.9,1110.1 1179.5,1105.0 1180.5,1100.0 C1182.2,1091.3 1184.3,1082.6 1185.7,1073.8 C1187.9,1059.8 1188.7,1045.5 1191.3,1031.6 C1193.4,1020.2 1196.0,1008.8 1199.7,997.8 C1202.6,989.1 1206.4,980.4 1211.0,972.5 C1214.8,965.9 1219.3,958.9 1225.0,954.2 C1229.6,950.5 1236.0,948.2 1241.9,947.2 C1254.7,945.2 1268.2,945.8 1281.3,945.2 C1295.4,944.6 1309.4,944.2 1323.5,943.5 C1337.6,942.7 1351.6,941.3 1365.7,940.7 C1375.6,940.2 1385.5,940.4 1395.4,940.2" stroke="#000" stroke-width="2.9" stroke-dasharray="30.5 15.5"/>
</g>
<path d="M957.0,1214.9V1208.9M957.0,909.7V915.7M1103.2,1214.9V1208.9M1103.2,909.7V915.7M1249.4,1214.9V1208.9M1249.4,909.7V915.7M810.8,1004.4H816.8M1395.6,1004.4H1389.6M810.8,1109.7H816.8M1395.6,1109.7H1389.6" stroke="#161616" stroke-width="2.4" fill="none"/>
<rect x="810.8" y="909.7" width="584.8" height="305.2" fill="none" stroke="#161616" stroke-width="2.95"/>
<text x="808.8" y="1244.7" font-size="28.0" text-anchor="middle" font-weight="normal">1</text>
<text x="955.0" y="1244.7" font-size="28.0" text-anchor="middle" font-weight="normal" textLength="34.0" lengthAdjust="spacingAndGlyphs">1.5</text>
<text x="1101.2" y="1244.7" font-size="28.0" text-anchor="middle" font-weight="normal">2</text>
<text x="1247.4" y="1244.7" font-size="28.0" text-anchor="middle" font-weight="normal" textLength="35.6" lengthAdjust="spacingAndGlyphs">2.5</text>
<text x="1393.6" y="1244.7" font-size="28.0" text-anchor="middle" font-weight="normal">3</text>
<text x="804.9" y="1011.7" font-size="28.0" text-anchor="end" font-weight="normal">0</text>
<text x="802.6" y="1117.0" font-size="28.0" text-anchor="end" font-weight="normal">-50</text>
<text x="800.6" y="1222.2" font-size="28.0" text-anchor="end" font-weight="normal">-100</text>
<text x="1122.3" y="1276.2" font-size="28.0" text-anchor="middle" font-weight="normal" textLength="116.0" lengthAdjust="spacingAndGlyphs">Time (ms)</text>
<text x="1175.4" y="1179.7" font-size="28.0" text-anchor="start" font-weight="normal" textLength="190.4" lengthAdjust="spacingAndGlyphs">CV = 21.63 cm/s</text>
<clipPath id="clipDl"><rect x="146.8" y="1334.7" width="581.5" height="305.2"/></clipPath>
<g clip-path="url(#clipDl)" fill="none" stroke-linejoin="round" stroke-linecap="butt">
<path d="M393.0,1605.5 C393.6,1604.6 394.4,1603.7 394.8,1602.7 C396.4,1599.0 397.6,1595.1 399.0,1591.4 C400.4,1587.9 401.6,1584.3 403.2,1580.9 C405.1,1576.8 407.1,1572.7 409.5,1568.9 C412.3,1564.5 415.5,1560.4 418.7,1556.3 C422.1,1552.0 425.7,1547.9 429.2,1543.6 C432.8,1539.2 436.3,1534.7 439.8,1530.2 C443.4,1525.6 446.7,1520.8 450.3,1516.2 C453.7,1511.9 457.8,1508.1 460.9,1503.5 C463.8,1499.2 465.3,1494.1 468.1,1489.7 C472.4,1482.9 477.4,1476.5 482.2,1470.0 C486.8,1463.6 491.1,1456.9 496.3,1451.0 C502.8,1443.6 510.1,1436.7 517.4,1430.0 C524.1,1423.8 531.0,1417.7 538.5,1412.5 C545.0,1408.0 552.4,1404.6 559.5,1401.0 C566.4,1397.5 573.4,1393.9 580.6,1391.0 C587.3,1388.3 594.3,1386.0 601.3,1384.0 C608.1,1382.0 615.0,1380.4 622.0,1379.0 C629.1,1377.5 636.4,1376.8 643.5,1375.4 C649.1,1374.3 654.6,1372.5 660.3,1371.5 C668.7,1370.0 677.2,1368.9 685.7,1368.0 C693.8,1367.2 701.9,1367.1 710.0,1366.5 C716.3,1366.1 722.7,1365.5 729.0,1365.0 L729.0,1377.3 C723.0,1377.4 717.0,1376.9 711.0,1377.5 C702.5,1378.3 694.1,1380.2 685.7,1381.4 C679.8,1382.2 673.9,1382.8 668.0,1383.5 C662.6,1384.2 657.2,1384.7 651.9,1385.6 C645.9,1386.6 640.0,1387.8 634.0,1389.0 C628.7,1390.1 623.4,1391.0 618.1,1392.3 C612.4,1393.7 606.6,1395.2 601.0,1397.0 C595.4,1398.8 589.7,1400.5 584.4,1403.0 C575.7,1407.1 567.4,1412.1 559.1,1417.0 C552.1,1421.1 545.1,1425.3 538.5,1430.0 C531.2,1435.3 523.9,1440.7 517.4,1447.0 C509.8,1454.4 503.2,1462.9 496.3,1471.0 C491.5,1476.7 486.6,1482.3 482.2,1488.3 C477.8,1494.3 473.9,1500.7 470.0,1507.0 C467.5,1511.1 465.2,1515.4 463.0,1519.7 C461.0,1523.6 459.3,1527.6 457.4,1531.6 C456.2,1534.2 454.8,1536.7 453.8,1539.4 C452.4,1543.1 451.8,1547.0 450.3,1550.6 C448.7,1554.5 446.7,1558.2 444.7,1561.9 C442.5,1565.9 440.3,1570.0 437.7,1573.8 C435.1,1577.5 432.1,1580.9 429.2,1584.4 C425.8,1588.4 422.4,1592.6 418.7,1596.3 C416.1,1598.9 413.3,1601.4 410.2,1603.4 C408.1,1604.8 405.7,1606.2 403.2,1606.5 C399.9,1606.9 396.4,1605.8 393.0,1605.5 Z" fill="#0000f8" stroke="#0000f8" stroke-width="2.6"/>
<path d="M147,1603.6H396" stroke="#0000f8" stroke-width="2.6"/>
<path d="M147,1595.5 C149.5,1600 155,1602 167,1602.8 L167,1604.2 C158,1605 151,1607 147,1611 Z" fill="#0000f8" stroke="none"/>
<path d="M146.5,1612.8 C147.3,1611.9 148.0,1610.8 149.0,1610.0 C150.2,1609.0 151.6,1608.1 153.0,1607.5 C155.2,1606.6 157.6,1606.0 160.0,1605.6 C163.3,1605.1 166.7,1604.8 170.0,1604.7 C195.2,1604.3 220.3,1604.4 245.5,1604.3 C273.6,1604.2 301.8,1603.9 329.9,1604.3 C332.0,1604.3 334.0,1605.2 336.0,1605.5 C337.5,1605.7 338.9,1606.0 340.4,1606.0 C341.9,1606.0 343.5,1605.7 345.0,1605.5 C347.0,1605.2 349.3,1605.4 351.0,1604.3 C355.5,1601.4 359.8,1597.6 363.6,1593.7 C366.8,1590.5 369.5,1586.7 372.0,1583.0 C374.9,1578.7 377.7,1574.3 380.0,1569.6 C382.0,1565.4 383.8,1560.9 384.9,1556.3 C386.3,1550.6 386.9,1544.6 387.7,1538.7 C388.5,1532.9 389.1,1527.0 389.5,1521.1 C390.0,1514.1 390.3,1507.0 390.5,1500.0 C390.9,1489.0 391.0,1478.1 391.3,1467.1 C391.9,1449.5 392.3,1432.0 393.2,1414.4 C393.9,1400.3 394.1,1385.9 396.3,1372.2 C396.9,1368.3 398.8,1364.0 401.6,1361.6 C404.8,1358.8 410.0,1358.0 414.3,1356.4 C417.9,1355.0 421.5,1353.6 425.3,1352.7 C431.3,1351.3 437.4,1350.5 443.5,1349.6 C448.3,1348.9 453.3,1347.7 458.0,1348.1 C461.1,1348.4 464.0,1350.6 467.0,1351.8 C470.6,1353.3 474.1,1355.4 477.9,1356.3 C484.4,1357.8 491.1,1358.3 497.8,1359.0 C505.6,1359.9 513.6,1360.2 521.4,1361.2 C525.7,1361.7 529.8,1363.2 534.1,1363.5 C544.8,1364.3 555.6,1364.1 566.3,1364.4 C574.2,1364.6 582.1,1364.5 590.0,1365.0 C595.1,1365.3 600.2,1366.9 605.3,1367.0 C618.9,1367.4 632.6,1365.9 646.1,1366.5 C651.3,1366.7 656.2,1369.1 661.4,1369.3 C683.9,1370.0 706.5,1369.2 729.0,1369.1" stroke="#000" stroke-width="2.9"/>
<path d="M146.7,1604.5 C228.8,1604.6 310.9,1604.4 393.0,1604.8 C396.4,1604.8 399.9,1606.1 403.2,1605.8 C406.1,1605.6 409.1,1604.8 411.6,1603.4 C414.5,1601.8 416.9,1599.2 419.4,1597.0 C422.7,1594.1 426.2,1591.2 429.2,1587.9 C432.8,1583.9 436.3,1579.7 439.1,1575.2 C441.4,1571.5 443.4,1567.4 444.7,1563.3 C446.4,1558.1 447.3,1552.5 448.2,1547.1 C449.2,1541.3 449.7,1535.4 450.3,1529.5 C450.8,1524.4 451.3,1519.2 451.7,1514.1 C452.0,1509.4 452.2,1504.7 452.4,1500.0 C452.9,1486.7 453.3,1473.3 453.8,1460.0 C454.3,1446.9 454.5,1433.7 455.2,1420.6 C455.9,1408.5 456.6,1396.4 458.0,1384.4 C458.7,1378.3 459.5,1371.9 461.6,1366.3 C462.5,1363.8 464.7,1361.3 467.0,1359.9 C470.7,1357.7 475.4,1356.5 479.7,1355.4 C489.9,1352.9 500.2,1350.2 510.5,1349.0 C515.3,1348.4 520.3,1349.1 525.0,1350.0 C531.2,1351.2 537.1,1353.9 543.2,1355.4 C549.2,1356.9 555.2,1358.1 561.3,1359.0 C570.8,1360.4 580.4,1361.5 590.0,1362.4 C599.1,1363.3 608.3,1364.1 617.5,1364.5 C627.7,1365.0 637.9,1364.5 648.1,1365.0 C653.6,1365.3 658.9,1366.8 664.4,1367.0 C685.9,1368.0 707.5,1368.1 729.0,1368.6" stroke="#000" stroke-width="2.9" stroke-dasharray="30.5 15.5"/>
</g>
<path d="M292.2,1639.9V1633.9M292.2,1334.7V1340.7M437.6,1639.9V1633.9M437.6,1334.7V1340.7M582.9,1639.9V1633.9M582.9,1334.7V1340.7M146.8,1429.4H152.8M728.3,1429.4H722.3M146.8,1534.7H152.8M728.3,1534.7H722.3" stroke="#161616" stroke-width="2.4" fill="none"/>
<rect x="146.8" y="1334.7" width="581.5" height="305.2" fill="none" stroke="#161616" stroke-width="2.95"/>
<text x="144.8" y="1669.7" font-size="28.0" text-anchor="middle" font-weight="normal">0</text>
<text x="290.2" y="1669.7" font-size="28.0" text-anchor="middle" font-weight="normal" textLength="35.6" lengthAdjust="spacingAndGlyphs">0.2</text>
<text x="435.6" y="1669.7" font-size="28.0" text-anchor="middle" font-weight="normal" textLength="35.6" lengthAdjust="spacingAndGlyphs">0.4</text>
<text x="580.9" y="1669.7" font-size="28.0" text-anchor="middle" font-weight="normal" textLength="35.6" lengthAdjust="spacingAndGlyphs">0.6</text>
<text x="726.3" y="1669.7" font-size="28.0" text-anchor="middle" font-weight="normal" textLength="35.6" lengthAdjust="spacingAndGlyphs">0.8</text>
<text x="141.5" y="1436.7" font-size="28.0" text-anchor="end" font-weight="normal">0</text>
<text x="139.2" y="1542.0" font-size="28.0" text-anchor="end" font-weight="normal">-50</text>
<text x="137.2" y="1647.2" font-size="28.0" text-anchor="end" font-weight="normal">-100</text>
<text x="458.3" y="1701.2" font-size="28.0" text-anchor="middle" font-weight="normal" textLength="116.0" lengthAdjust="spacingAndGlyphs">Time (ms)</text>
<text x="487.5" y="1604.7" font-size="28.0" text-anchor="start" font-weight="normal" textLength="203.3" lengthAdjust="spacingAndGlyphs">CV = 117.45 cm/s</text>
<clipPath id="clipDr"><rect x="810.8" y="1334.7" width="584.8" height="305.2"/></clipPath>
<rect x="810.8" y="1334.7" width="584.8" height="305.2" fill="#dcdde0"/>
<rect x="813.0" y="1336.9" width="580.4" height="300.8" fill="none" stroke="#f4f4f5" stroke-width="1.2"/>
<g clip-path="url(#clipDr)" fill="none" stroke-linejoin="round" stroke-linecap="butt">
<path d="M810.9,1604.3 C840.6,1604.3 870.3,1604.5 900.0,1604.4 C926.3,1604.3 952.5,1604.1 978.8,1603.6 C995.9,1603.3 1012.9,1602.7 1030.0,1602.0 C1037.9,1601.7 1045.8,1601.5 1053.6,1600.6 C1058.3,1600.0 1062.8,1598.7 1067.4,1597.5 C1077.3,1595.0 1087.1,1592.5 1096.9,1589.7 C1106.8,1586.9 1116.7,1584.1 1126.4,1580.8 C1135.0,1577.9 1143.8,1574.9 1152.0,1571.0 C1156.9,1568.7 1161.8,1565.7 1165.8,1562.1 C1168.8,1559.4 1171.1,1555.6 1173.0,1552.0 C1175.0,1548.3 1176.4,1544.1 1177.5,1540.0 C1178.9,1535.1 1179.5,1530.0 1180.5,1525.0 C1182.2,1516.3 1184.3,1507.6 1185.7,1498.8 C1187.9,1484.8 1188.7,1470.5 1191.3,1456.6 C1193.4,1445.2 1196.0,1433.8 1199.7,1422.8 C1202.6,1414.1 1206.4,1405.4 1211.0,1397.5 C1214.8,1390.9 1219.3,1383.9 1225.0,1379.2 C1229.6,1375.5 1236.0,1373.2 1241.9,1372.2 C1254.7,1370.2 1268.2,1370.8 1281.3,1370.2 C1295.4,1369.6 1309.4,1369.2 1323.5,1368.5 C1337.6,1367.7 1351.6,1366.3 1365.7,1365.7 C1375.6,1365.2 1385.5,1365.4 1395.4,1365.2" stroke="#0000f8" stroke-width="4" transform="translate(-0.6,-1.2)"/>
<path d="M810.9,1604.3 C830.0,1604.0 849.2,1603.8 868.3,1603.4 C878.9,1603.2 889.5,1603.3 900.0,1602.5 C908.5,1601.9 916.9,1600.8 925.3,1599.3 C933.8,1597.8 942.2,1595.7 950.6,1593.6 C959.1,1591.5 967.5,1588.9 975.9,1586.6 C984.4,1584.3 992.9,1582.3 1001.3,1579.7 C1007.7,1577.7 1014.1,1575.4 1020.3,1572.7 C1024.7,1570.8 1029.2,1568.7 1032.9,1565.8 C1036.4,1563.0 1039.5,1559.4 1041.8,1555.6 C1044.1,1551.8 1045.5,1547.3 1046.8,1543.0 C1048.3,1538.1 1049.1,1532.9 1050.0,1527.8 C1051.3,1520.2 1052.3,1512.6 1053.2,1505.0 C1053.9,1498.4 1054.1,1491.7 1054.8,1485.0 C1055.5,1478.3 1056.4,1471.7 1057.3,1465.0 C1058.3,1458.0 1059.1,1450.9 1060.5,1444.0 C1062.0,1436.6 1063.8,1429.2 1066.0,1422.0 C1068.0,1415.6 1070.3,1409.2 1073.1,1403.1 C1075.0,1398.9 1077.3,1394.7 1080.0,1391.0 C1082.9,1387.0 1086.2,1383.1 1090.0,1380.0 C1092.9,1377.6 1096.5,1375.7 1100.0,1374.5 C1104.0,1373.1 1108.3,1372.5 1112.5,1372.2 C1131.2,1370.8 1150.1,1370.6 1168.8,1369.4 C1178.2,1368.8 1187.5,1367.3 1196.9,1366.6 C1206.2,1365.9 1215.6,1365.3 1225.0,1365.2 C1281.8,1364.5 1338.6,1364.6 1395.4,1364.3" stroke="#000" stroke-width="2.9"/>
<path d="M810.9,1604.3 C840.6,1604.3 870.3,1604.5 900.0,1604.4 C926.3,1604.3 952.5,1604.1 978.8,1603.6 C995.9,1603.3 1012.9,1602.7 1030.0,1602.0 C1037.9,1601.7 1045.8,1601.5 1053.6,1600.6 C1058.3,1600.0 1062.8,1598.7 1067.4,1597.5 C1077.3,1595.0 1087.1,1592.5 1096.9,1589.7 C1106.8,1586.9 1116.7,1584.1 1126.4,1580.8 C1135.0,1577.9 1143.8,1574.9 1152.0,1571.0 C1156.9,1568.7 1161.8,1565.7 1165.8,1562.1 C1168.8,1559.4 1171.1,1555.6 1173.0,1552.0 C1175.0,1548.3 1176.4,1544.1 1177.5,1540.0 C1178.9,1535.1 1179.5,1530.0 1180.5,1525.0 C1182.2,1516.3 1184.3,1507.6 1185.7,1498.8 C1187.9,1484.8 1188.7,1470.5 1191.3,1456.6 C1193.4,1445.2 1196.0,1433.8 1199.7,1422.8 C1202.6,1414.1 1206.4,1405.4 1211.0,1397.5 C1214.8,1390.9 1219.3,1383.9 1225.0,1379.2 C1229.6,1375.5 1236.0,1373.2 1241.9,1372.2 C1254.7,1370.2 1268.2,1370.8 1281.3,1370.2 C1295.4,1369.6 1309.4,1369.2 1323.5,1368.5 C1337.6,1367.7 1351.6,1366.3 1365.7,1365.7 C1375.6,1365.2 1385.5,1365.4 1395.4,1365.2" stroke="#000" stroke-width="2.9" stroke-dasharray="30.5 15.5"/>
</g>
<path d="M957.0,1639.9V1633.9M957.0,1334.7V1340.7M1103.2,1639.9V1633.9M1103.2,1334.7V1340.7M1249.4,1639.9V1633.9M1249.4,1334.7V1340.7M810.8,1429.4H816.8M1395.6,1429.4H1389.6M810.8,1534.7H816.8M1395.6,1534.7H1389.6" stroke="#161616" stroke-width="2.4" fill="none"/>
<path d="M810.8,1334.7H1395.6M810.8,1639.9H1395.6" stroke="#68696c" stroke-width="2.8" fill="none"/>
<path d="M810.8,1333.3V1641.3M1395.6,1333.3V1641.3" stroke="#161616" stroke-width="2.8" fill="none"/>
<text x="808.8" y="1669.7" font-size="28.0" text-anchor="middle" font-weight="normal">1</text>
<text x="955.0" y="1669.7" font-size="28.0" text-anchor="middle" font-weight="normal" textLength="34.0" lengthAdjust="spacingAndGlyphs">1.5</text>
<text x="1101.2" y="1669.7" font-size="28.0" text-anchor="middle" font-weight="normal">2</text>
<text x="1247.4" y="1669.7" font-size="28.0" text-anchor="middle" font-weight="normal" textLength="35.6" lengthAdjust="spacingAndGlyphs">2.5</text>
<text x="1393.6" y="1669.7" font-size="28.0" text-anchor="middle" font-weight="normal">3</text>
<text x="804.9" y="1436.7" font-size="28.0" text-anchor="end" font-weight="normal">0</text>
<text x="802.6" y="1542.0" font-size="28.0" text-anchor="end" font-weight="normal">-50</text>
<text x="800.6" y="1647.2" font-size="28.0" text-anchor="end" font-weight="normal">-100</text>
<text x="1122.3" y="1701.2" font-size="28.0" text-anchor="middle" font-weight="normal" textLength="116.0" lengthAdjust="spacingAndGlyphs">Time (ms)</text>
<text x="1175.4" y="1604.7" font-size="28.0" text-anchor="start" font-weight="normal" textLength="190.4" lengthAdjust="spacingAndGlyphs">CV = 21.63 cm/s</text>
<rect x="469" y="181.6" width="246.2" height="102.4" fill="#fff" stroke="#000" stroke-width="2.2"/>
<path d="M484.4,201.7H559.7" stroke="#0000f8" stroke-width="3"/>
<path d="M485.9,230.8H558.3" stroke="#000" stroke-width="3"/>
<path d="M486.5,259.9H514.4M532.3,259.9H558.3" stroke="#000" stroke-width="3"/>
<text x="568.8" y="210.2" font-size="27.5" text-anchor="start" font-weight="normal" textLength="141.0" lengthAdjust="spacingAndGlyphs">lateral edge</text>
<text x="568.8" y="238.6" font-size="27.5" text-anchor="start" font-weight="normal" textLength="91.0" lengthAdjust="spacingAndGlyphs">left end</text>
<text x="568.8" y="267.3" font-size="27.5" text-anchor="start" font-weight="normal" textLength="108.5" lengthAdjust="spacingAndGlyphs">right end</text>
<text x="435.7" y="36.0" font-size="34.0" text-anchor="middle" font-weight="bold" textLength="218.0" lengthAdjust="spacingAndGlyphs">NONUNIFORM</text>
<text x="1097.6" y="36.3" font-size="34.0" text-anchor="middle" font-weight="bold" textLength="147.0" lengthAdjust="spacingAndGlyphs">UNIFORM</text>
<text x="1.5" y="33.6" font-size="44.5" text-anchor="start" font-weight="bold">A</text>
<text x="3.0" y="460.1" font-size="43.5" text-anchor="start" font-weight="bold">B</text>
<text x="2.0" y="887.8" font-size="43.5" text-anchor="start" font-weight="bold">C</text>
<text x="3.0" y="1325.6" font-size="43.5" text-anchor="start" font-weight="bold">D</text>
<text x="81.0" y="218.7" font-size="28" text-anchor="middle" transform="rotate(-90 81.0 218.7)" textLength="369.7" lengthAdjust="spacingAndGlyphs">Transmembrane Potential (mV)</text>
<text x="81.0" y="644.5" font-size="28" text-anchor="middle" transform="rotate(-90 81.0 644.5)" textLength="372.1" lengthAdjust="spacingAndGlyphs">Transmembrane Potential (mV)</text>
<text x="81.0" y="1066.5" font-size="28" text-anchor="middle" transform="rotate(-90 81.0 1066.5)" textLength="371.7" lengthAdjust="spacingAndGlyphs">Transmembrane Potential (mV)</text>
<text x="81.0" y="1491.2" font-size="28" text-anchor="middle" transform="rotate(-90 81.0 1491.2)" textLength="371.6" lengthAdjust="spacingAndGlyphs">Transmembrane Potential (mV)</text>
<text x="44.5" y="288.7" font-size="28.8" font-weight="bold" transform="rotate(-90 44.5 288.7)" textLength="226.4" lengthAdjust="spacingAndGlyphs">100% GJ, 500% W</text>
<text x="54.0" y="62.8" font-size="16.5" font-weight="bold" transform="rotate(-90 54.0 62.8)">p</text>
<text x="44.5" y="719.4" font-size="28.8" font-weight="bold" transform="rotate(-90 44.5 719.4)" textLength="226.4" lengthAdjust="spacingAndGlyphs">100% GJ, 100% W</text>
<text x="54.0" y="493.5" font-size="16.5" font-weight="bold" transform="rotate(-90 54.0 493.5)">p</text>
<text x="44.5" y="1156.9" font-size="28.8" font-weight="bold" transform="rotate(-90 44.5 1156.9)" textLength="214.0" lengthAdjust="spacingAndGlyphs">1.7% GJ, 500% W</text>
<text x="54.0" y="943.4" font-size="16.5" font-weight="bold" transform="rotate(-90 54.0 943.4)">p</text>
<text x="44.5" y="1581.9" font-size="28.8" font-weight="bold" transform="rotate(-90 44.5 1581.9)" textLength="208.9" lengthAdjust="spacingAndGlyphs">1.7% GJ, 100% W</text>
<text x="54.0" y="1373.5" font-size="16.5" font-weight="bold" transform="rotate(-90 54.0 1373.5)">p</text>
</svg></body></html>
